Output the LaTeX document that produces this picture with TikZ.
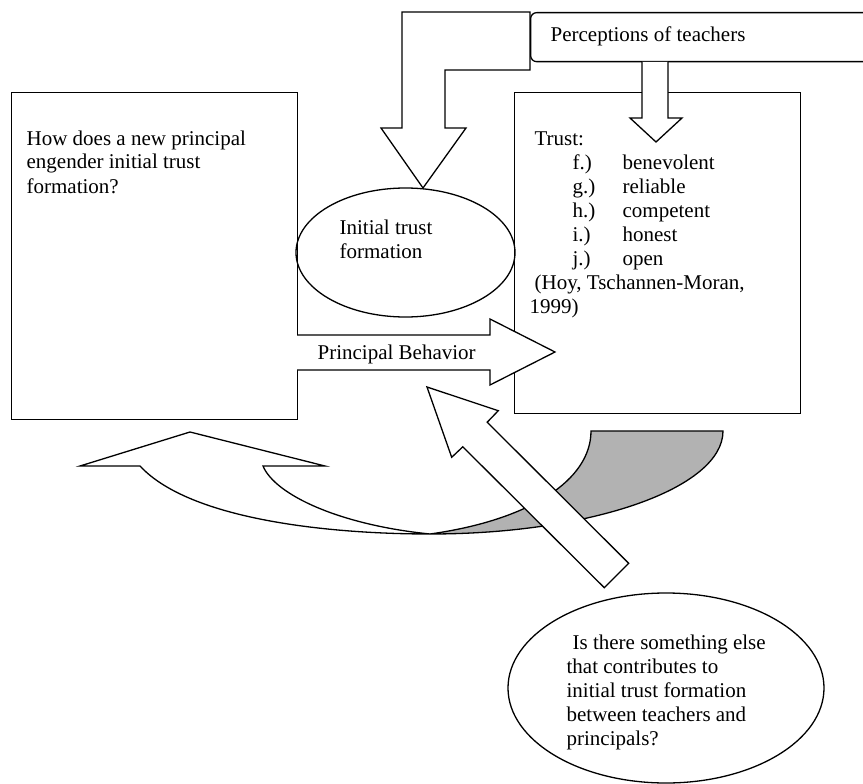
\documentclass[tikz,border=0pt]{standalone}
\usepackage{fontspec}
\setmainfont{Liberation Serif}
\usetikzlibrary{shapes.geometric}
\newcommand{\mylines}[1]{\begin{tabular}[t]{@{}l@{}}#1\end{tabular}}
\begin{document}
\begin{tikzpicture}[x=1pt,y=-1pt, line width=1.3pt, line join=miter,
  box/.style={draw, inner sep=0, anchor=north west},
  oval/.style={draw, ellipse, inner sep=0},
  txt/.style={inner sep=0, anchor=base west, font=\fontsize{21}{24}\selectfont},
  blockarrow/.style={draw, fill=white},
  backface/.style={draw, fill=black!30}]
\useasboundingbox (0,0) rectangle (863,784);
\clip (0,0) rectangle (863,784);

% boxes
\node[box, minimum width=286pt, minimum height=327pt] (lbox) at (11,92) {};
\node[box, minimum width=286pt, minimum height=321pt] (rbox) at (514,92) {};

% L-shaped block arrow into the small ellipse
\draw[blockarrow] (530,12) -- (402,12) -- (402,128) -- (381,128) -- (423,188)
  -- (466,128) -- (445,128) -- (445,70) -- (530,70) -- cycle;

% perceptions box (runs off the right edge)
\node[box, rounded corners=6pt, fill=white, minimum width=380pt, minimum height=49pt] (perc) at (530,12) {};
\node[txt] (perct) at (550,42) {Perceptions of teachers};

% down arrow into the trust box
\draw[blockarrow] (642,61.8) -- (642,118) -- (630,118) -- (656,142) -- (682,118) -- (668,118) -- (668,61.8);

% initial trust ellipse
\node[oval, minimum width=219pt, minimum height=129pt] (itf) at (405.5,252.5) {};
\node[txt] (itft) at (339,234) {\mylines{Initial trust\\formation}};

% Principal Behavior arrow
\draw[blockarrow] (297,335) -- (490,335) -- (490,319) -- (555,352) -- (490,385) -- (490,370) -- (297,370);
\node[txt] (pb) at (317,359) {Principal Behavior};

% texts in boxes
\node[txt] (lq) at (26,145) {\mylines{How does a new principal\\engender initial trust\\formation?}};
\node[txt] (trust) at (529,146) {\mylines{%
\hspace*{5pt}Trust:\\
\hspace*{43pt}\makebox[50pt][l]{f.)}benevolent\\
\hspace*{43pt}\makebox[50pt][l]{g.)}reliable\\
\hspace*{43pt}\makebox[50pt][l]{h.)}competent\\
\hspace*{43pt}\makebox[50pt][l]{i.)}honest\\
\hspace*{43pt}\makebox[50pt][l]{j.)}open\\
\hspace*{5pt}(Hoy, Tschannen-Moran,\\
1999)}};

% curved block arrow: back face (shaded)
\draw[backface] (591,431) -- (723,431) .. controls (723,488) and (592,534) .. (430,534)
  .. controls (530,520) and (591,480) .. (591,431) -- cycle;
% curved block arrow: front face
\draw[blockarrow] (80,466) -- (190,432) -- (325,466) -- (263,466)
  .. controls (275,495) and (340,525) .. (430,534)
  .. controls (330,534) and (190,520) .. (140,466) -- cycle;

% bottom question ellipse
\node[oval, minimum width=316pt, minimum height=190pt] (qe) at (666,688) {};
\node[txt] (qt) at (566,649) {\mylines{\hspace*{6pt}Is there something else\\that contributes to\\initial trust formation\\between teachers and\\principals?}};

% diagonal block arrow from the question to Principal Behavior
\draw[blockarrow] (427,387) -- (498.3,410.7) -- (487.2,422.2) -- (628.7,563.3)
  -- (604.3,587.7) -- (462.8,446.8) -- (451.7,457.3) -- cycle;
\end{tikzpicture}
\end{document}
